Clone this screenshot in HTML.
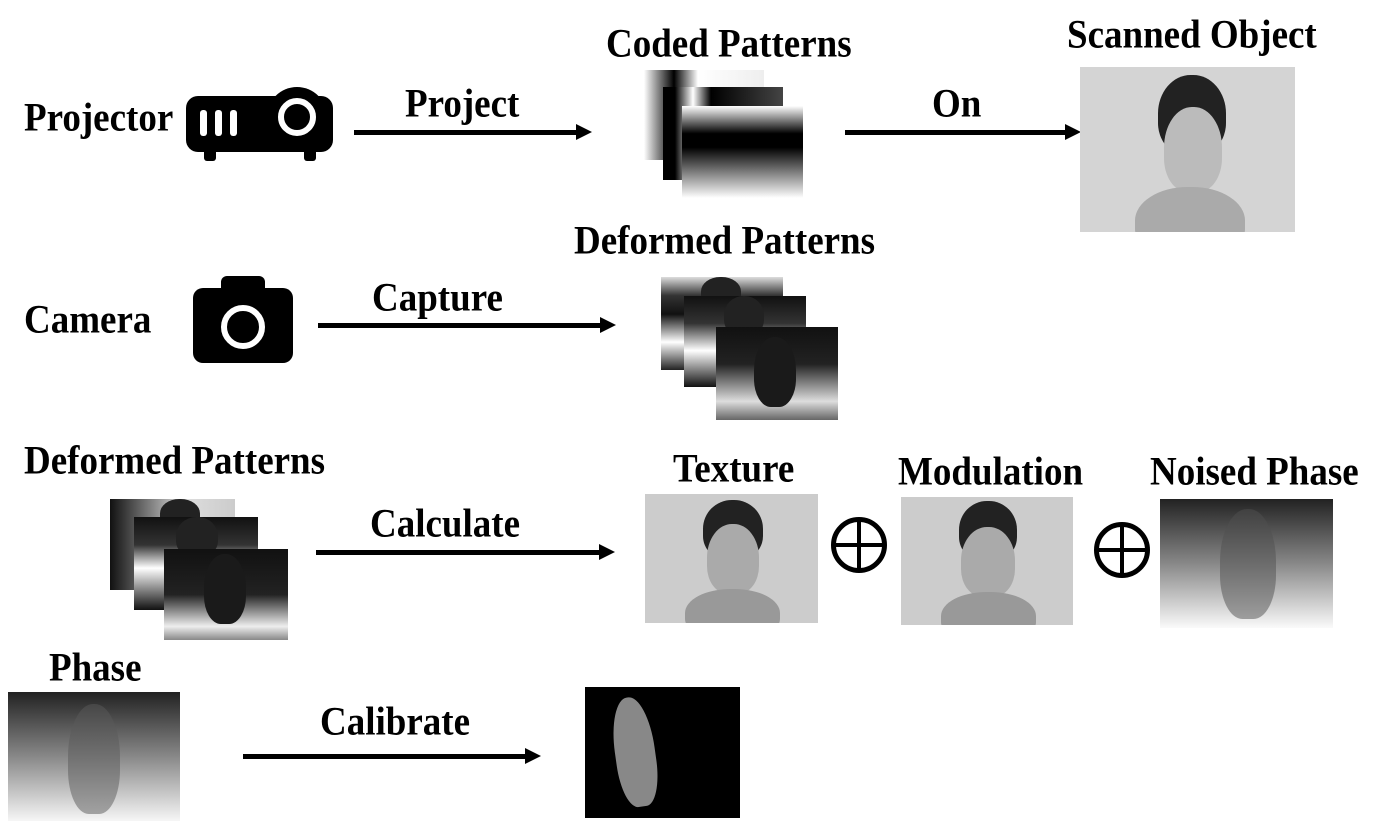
<!DOCTYPE html>
<html><head><style>
body{margin:0;width:1399px;height:821px;background:#fff;position:relative;overflow:hidden;font-family:"Liberation Serif",serif;font-weight:bold}
.t{position:absolute;font-size:37px;line-height:1;white-space:nowrap;color:#000;transform-origin:left top;transform:translateY(-4px) scaleY(1.08)}
.a{position:absolute;height:5px;background:#000}
.a:after{content:"";position:absolute;right:-14px;top:-6px;border-left:16px solid #000;border-top:8.5px solid transparent;border-bottom:8.5px solid transparent}
.b{position:absolute;overflow:hidden}
.cp{background:linear-gradient(#fff,#000 30%,#000 45%,#fff 100%)}
.df{background:linear-gradient(#ddd,#333 20%,#111 40%,#fff 70%,#222)}
.head{position:absolute;border-radius:48% 48% 40% 40%}
.plus{position:absolute;width:46px;height:46px;border:5px solid #000;border-radius:50%}
.plus:before{content:"";position:absolute;left:0;right:0;top:21px;height:4px;background:#000}
.plus:after{content:"";position:absolute;top:0;bottom:0;left:21px;width:4px;background:#000}
</style></head><body>
<!-- Row1 -->
<div class="t" style="left:24px;top:102px">Projector</div>
<svg style="position:absolute;left:186px;top:86px" width="148" height="76">
<rect x="0" y="10" width="147" height="56" rx="12" fill="#000"/>
<circle cx="111" cy="31" r="30" fill="#000"/>
<circle cx="111" cy="31" r="16" fill="none" stroke="#fff" stroke-width="6"/>
<rect x="14" y="24" width="7" height="26" rx="3" fill="#fff"/><rect x="29" y="24" width="7" height="26" rx="3" fill="#fff"/><rect x="44" y="24" width="7" height="26" rx="3" fill="#fff"/>
<rect x="18" y="60" width="12" height="15" rx="3" fill="#000"/><rect x="118" y="60" width="12" height="15" rx="3" fill="#000"/>
</svg>
<div class="a" style="left:354px;top:130px;width:224px"></div>
<div class="t" style="left:405px;top:88px">Project</div>
<div class="t" style="left:606px;top:28px">Coded Patterns</div>
<div class="b" style="left:644px;top:70px;width:120px;height:90px;background:linear-gradient(90deg,#fff,#000 25%,#fff 45%,#eee 100%)"></div>
<div class="b" style="left:663px;top:87px;width:120px;height:93px;background:linear-gradient(90deg,#000 10%,#fff 25%,#000 40%,#444)"></div>
<div class="b cp" style="left:682px;top:106px;width:121px;height:92px"></div>
<div class="a" style="left:845px;top:130px;width:222px"></div>
<div class="t" style="left:932px;top:88px">On</div>
<div class="t" style="left:1067px;top:19px">Scanned Object</div>
<div class="b" style="left:1080px;top:67px;width:215px;height:165px;background:#d4d4d4">
<div class="head" style="left:78px;top:8px;width:68px;height:80px;background:#222"></div>
<div class="head" style="left:84px;top:40px;width:58px;height:85px;background:#bbb"></div>
<div class="head" style="left:55px;top:120px;width:110px;height:70px;background:#aaa"></div></div>
<!-- Row2 -->
<div class="t" style="left:24px;top:304px">Camera</div>
<svg style="position:absolute;left:193px;top:276px" width="101" height="88">
<rect x="0" y="12" width="100" height="75" rx="10" fill="#000"/>
<rect x="28" y="0" width="44" height="20" rx="6" fill="#000"/>
<circle cx="50" cy="51" r="19" fill="none" stroke="#fff" stroke-width="6"/>
</svg>
<div class="a" style="left:318px;top:323px;width:284px"></div>
<div class="t" style="left:372px;top:282px">Capture</div>
<div class="t" style="left:574px;top:225px">Deformed Patterns</div>
<div class="b df" style="left:661px;top:277px;width:122px;height:93px"><div class="head" style="left:40px;top:0;width:40px;height:30px;background:#222"></div></div>
<div class="b" style="left:684px;top:296px;width:122px;height:91px;background:linear-gradient(#111,#333 30%,#fff 60%,#111)"><div class="head" style="left:40px;top:0;width:40px;height:40px;background:#222"></div></div>
<div class="b" style="left:716px;top:327px;width:122px;height:93px;background:linear-gradient(#111,#222 40%,#ddd 80%,#666)"><div class="head" style="left:38px;top:10px;width:42px;height:70px;background:#1a1a1a"></div></div>
<!-- Row3 -->
<div class="t" style="left:24px;top:445px">Deformed Patterns</div>
<div class="b" style="left:110px;top:499px;width:125px;height:91px;background:linear-gradient(90deg,#111,#ddd 60%,#ccc)"><div class="head" style="left:50px;top:0;width:40px;height:30px;background:#222"></div></div>
<div class="b" style="left:134px;top:517px;width:124px;height:93px;background:linear-gradient(#111,#333 30%,#fff 55%,#111)"><div class="head" style="left:42px;top:0;width:42px;height:40px;background:#222"></div></div>
<div class="b" style="left:164px;top:549px;width:124px;height:91px;background:linear-gradient(#111,#222 50%,#eee 85%,#888)"><div class="head" style="left:40px;top:5px;width:42px;height:70px;background:#1a1a1a"></div></div>
<div class="a" style="left:316px;top:550px;width:285px"></div>
<div class="t" style="left:370px;top:508px">Calculate</div>
<div class="t" style="left:673px;top:453px">Texture</div>
<div class="b" style="left:645px;top:494px;width:173px;height:129px;background:#ccc">
<div class="head" style="left:58px;top:6px;width:60px;height:60px;background:#222"></div>
<div class="head" style="left:62px;top:30px;width:52px;height:70px;background:#aaa"></div>
<div class="head" style="left:40px;top:95px;width:95px;height:50px;background:#999"></div></div>
<div class="plus" style="left:831px;top:517px"></div>
<div class="t" style="left:898px;top:456px">Modulation</div>
<div class="b" style="left:901px;top:497px;width:172px;height:128px;background:#ccc">
<div class="head" style="left:58px;top:4px;width:58px;height:60px;background:#222"></div>
<div class="head" style="left:60px;top:30px;width:54px;height:70px;background:#aaa"></div>
<div class="head" style="left:40px;top:95px;width:95px;height:50px;background:#999"></div></div>
<div class="plus" style="left:1094px;top:522px"></div>
<div class="t" style="left:1150px;top:456px">Noised Phase</div>
<div class="b" style="left:1160px;top:499px;width:173px;height:129px;background:linear-gradient(#222,#888 50%,#fafafa)">
<div class="head" style="left:60px;top:10px;width:56px;height:110px;background:rgba(80,80,80,.5)"></div></div>
<!-- Row4 -->
<div class="t" style="left:49px;top:652px">Phase</div>
<div class="b" style="left:8px;top:692px;width:172px;height:129px;background:linear-gradient(#222,#888 50%,#f6f6f6)">
<div class="head" style="left:60px;top:12px;width:52px;height:110px;background:rgba(90,90,90,.5)"></div></div>
<div class="a" style="left:243px;top:754px;width:284px"></div>
<div class="t" style="left:320px;top:706px">Calibrate</div>
<div class="b" style="left:585px;top:687px;width:155px;height:131px;background:#000">
<div class="head" style="left:30px;top:10px;width:40px;height:110px;background:#888;transform:rotate(-8deg)"></div></div>
</body></html>
